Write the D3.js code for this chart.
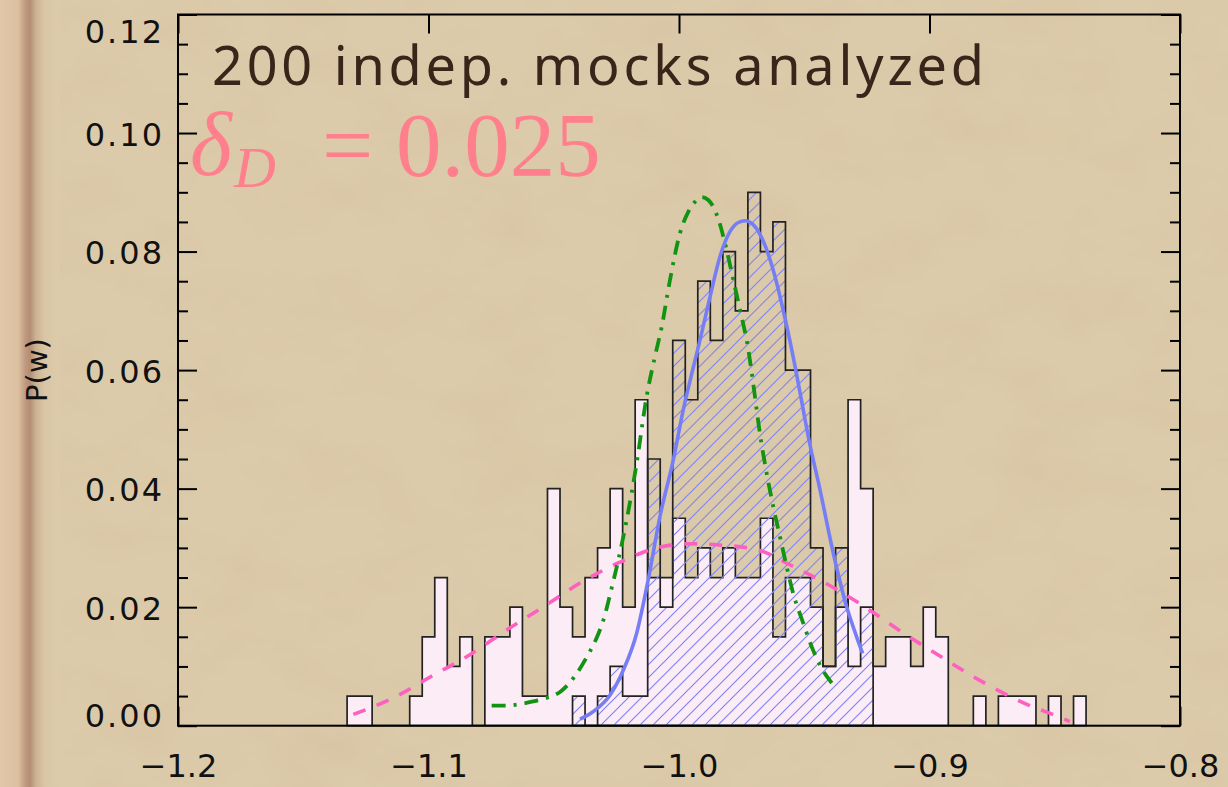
<!DOCTYPE html>
<html>
<head>
<meta charset="utf-8">
<script src="https://cdn.jsdelivr.net/npm/d3@7"></script>
<style>
  html, body { margin: 0; padding: 0; background: #dccbaa; }
  svg { display: block; }
</style>
</head>
<body>
<div id="chart"></div>
<script>
// ---- data ---------------------------------------------------------------
// histogram bins (width 0.005), centres
var binCenters = [-1.130, -1.125, -1.120, -1.115, -1.110, -1.105, -1.100, -1.095, -1.090, -1.085,
                  -1.080, -1.075, -1.070, -1.065, -1.060, -1.055, -1.050, -1.045, -1.040, -1.035,
                  -1.030, -1.025, -1.020, -1.015, -1.010, -1.005, -1.000, -0.995, -0.990, -0.985,
                  -0.980, -0.975, -0.970, -0.965, -0.960, -0.955, -0.950, -0.945, -0.940, -0.935,
                  -0.930, -0.925, -0.920, -0.915, -0.910, -0.905, -0.900, -0.895, -0.890, -0.885,
                  -0.880, -0.875, -0.870, -0.865, -0.860, -0.855, -0.850, -0.845, -0.840];
var binWidth = 0.005;

// all 200 mocks (pink histogram)
var pAll = [0.005, 0.005, 0, 0, 0, 0.005, 0.015, 0.025, 0.010, 0.015,
            0, 0.015, 0.015, 0.020, 0.005, 0.005, 0.040, 0.020, 0.015, 0.025,
            0.030, 0.040, 0.020, 0.055, 0.025, 0.025, 0.035, 0.025, 0.030, 0.025,
            0.030, 0.025, 0.025, 0.035, 0.015, 0.025, 0.025, 0.020, 0.010, 0.020,
            0.055, 0.040, 0.010, 0.015, 0.015, 0.010, 0.020, 0.015, 0, 0,
            0.005, 0, 0.005, 0.005, 0.005, 0, 0.005, 0, 0.005];

// hatched histogram
var pHatched = [0, 0, 0, 0, 0, 0, 0, 0, 0, 0,
                0, 0, 0, 0, 0, 0, 0, 0, 0.005, 0,
                0.005, 0.010, 0.005, 0.005, 0.045, 0.020, 0.065, 0.055, 0.075, 0.065,
                0.080, 0.070, 0.090, 0.080, 0.085, 0.060, 0.060, 0.030, 0.010, 0.030,
                0.010, 0.020, 0, 0, 0, 0, 0, 0, 0, 0,
                0, 0, 0, 0, 0, 0, 0, 0, 0];

// pink dashed fit
var pinkW = [-1.130, -1.114, -1.099, -1.083, -1.069, -1.054, -1.039, -1.024, -1.008, -0.996,
             -0.984, -0.968, -0.956, -0.940, -0.926, -0.920, -0.911, -0.896, -0.881, -0.8705,
             -0.860, -0.849, -0.844];
var pinkP = [0.0019, 0.0047, 0.0083, 0.0121, 0.0161, 0.0201, 0.0242, 0.0275, 0.0301, 0.0307,
             0.0305, 0.0296, 0.0272, 0.0237, 0.0201, 0.0184, 0.0158, 0.0118, 0.0079, 0.0055,
             0.0034, 0.0016, 0.0007];

// green dash-dot fit
var greenW = [-1.0748, -1.0695, -1.0582, -1.0528, -1.0475, -1.0422, -1.0368, -1.0329, -1.0302, -1.0269,
              -1.0242, -1.0209, -1.0169, -1.0129, -1.0096, -1.0069, -1.0036, -0.9996, -0.9963, -0.9936,
              -0.9909, -0.9883, -0.9849, -0.9810, -0.9783, -0.9756, -0.9723, -0.9703, -0.9677, -0.9650,
              -0.9624, -0.9597, -0.9570, -0.9544, -0.9504, -0.9470, -0.9437, -0.9390];
var greenP = [0.0034, 0.0034, 0.0041, 0.0047, 0.0057, 0.0080, 0.0116, 0.0148, 0.0178, 0.0232,
              0.0280, 0.0347, 0.0443, 0.0556, 0.0623, 0.0673, 0.0752, 0.0831, 0.0867, 0.0884,
              0.0892, 0.0887, 0.0862, 0.0803, 0.0752, 0.0701, 0.0634, 0.0575, 0.0493, 0.0426,
              0.0370, 0.0319, 0.0268, 0.0223, 0.0173, 0.0133, 0.0102, 0.0072];

// blue solid fit
var blueW = [-1.0395, -1.0342, -1.0275, -1.0222, -1.0169, -1.0123, -1.0076, -1.0023, -0.9983, -0.9942,
             -0.9916, -0.9876, -0.9836, -0.9796, -0.9763, -0.9737, -0.9703, -0.9663, -0.9624, -0.9584,
             -0.9544, -0.9504, -0.9484, -0.9437, -0.9384, -0.9331, -0.9291, -0.9267];
var blueP = [0.0011, 0.0024, 0.0052, 0.0094, 0.0156, 0.0246, 0.0353, 0.0448, 0.0533, 0.0606,
             0.0651, 0.0724, 0.0792, 0.0834, 0.0849, 0.0852, 0.0845, 0.0817, 0.0769, 0.0701,
             0.0622, 0.0533, 0.0488, 0.0398, 0.0291, 0.0201, 0.0150, 0.0122];

var xTicks = [-1.2, -1.1, -1.0, -0.9, -0.8];
var yTicks = [0, 0.02, 0.04, 0.06, 0.08, 0.10, 0.12];
var yMinorTicks = [0.005, 0.010, 0.015, 0.025, 0.030, 0.035, 0.045, 0.050, 0.055, 0.065, 0.070, 0.075,
                   0.085, 0.090, 0.095, 0.105, 0.110, 0.115];

var titleText = "200 indep. mocks analyzed";

// ---- layout ---------------------------------------------------------------
var w = 1228, h = 787;
var plotL = 178, plotR = 1180, plotT = 14.5, plotB = 725.7;

var x = d3.scaleLinear().domain([-1.2, -0.8]).range([plotL, plotR]);
var y = d3.scaleLinear().domain([0, 0.12]).range([plotB, plotT]);

var svg = d3.select("#chart")
    .append("svg")
    .attr("width", w)
    .attr("height", h);

var defs = svg.append("defs");

// parchment blotches
var paper = defs.append("filter").attr("id", "paper")
    .attr("x", 0).attr("y", 0).attr("width", "100%").attr("height", "100%");
paper.append("feTurbulence")
    .attr("type", "fractalNoise")
    .attr("baseFrequency", "0.011 0.018")
    .attr("numOctaves", 4)
    .attr("seed", 7);
paper.append("feColorMatrix")
    .attr("type", "matrix")
    .attr("values", "0 0 0 0 0.62  0 0 0 0 0.47  0 0 0 0 0.32  0.55 0 0 0 -0.22");

// left binding strip
var strip = defs.append("linearGradient").attr("id", "strip")
    .attr("x1", 0).attr("x2", 1).attr("y1", 0).attr("y2", 0);
[[0, "#e0c8a8"], [0.3, "#dcc1a1"], [0.42, "#bf9a80"], [0.5, "#b38d75"], [0.6, "#cdb292"], [0.75, "#dac6a6"], [1, "#dccbaa"]]
    .forEach(function (s) {
        strip.append("stop").attr("offset", s[0]).attr("stop-color", s[1]);
    });

// hatch pattern
var hatch = defs.append("pattern").attr("id", "hatch")
    .attr("patternUnits", "userSpaceOnUse")
    .attr("width", 13).attr("height", 13);
hatch.append("path")
    .attr("d", "M-3,3 l6,-6 M0,13 l13,-13 M10,16 l6,-6")
    .attr("stroke", "#7f86f6")
    .attr("stroke-width", 1.2);

svg.append("rect").attr("width", w).attr("height", h).attr("fill", "#dccbaa");
svg.append("rect").attr("width", w).attr("height", h).attr("filter", "url(#paper)");
svg.append("rect").attr("width", 60).attr("height", h).attr("fill", "url(#strip)");

// ---- axes (ticks pointing inward) ----------------------------------------
function styleAxis(g) {
    g.select(".domain").remove();
    g.selectAll(".tick line").attr("stroke", "#000").attr("stroke-width", 2);
    g.selectAll("text")
        .attr("fill", "#111")
        .style("font-family", "'DejaVu Sans', sans-serif")
        .style("font-size", "32px");
}

svg.append("g").attr("transform", `translate(${plotL},0)`)
    .call(d3.axisLeft(y).tickValues(yMinorTicks).tickSize(-10).tickFormat(""))
    .call(styleAxis);
svg.append("g").attr("transform", `translate(${plotL},0)`)
    .call(d3.axisLeft(y).tickValues(yTicks).tickSize(-19).tickPadding(14).tickFormat(d3.format(".2f")))
    .call(styleAxis)
    .selectAll("text")
    .style("letter-spacing", "2px")
    .attr("dy", "0.38em")
    .attr("y", (d) => Math.max(30, Math.min(714, y(d))) - y(d));

svg.append("g").attr("transform", `translate(${plotR},0)`)
    .call(d3.axisRight(y).tickValues(yMinorTicks).tickSize(-10).tickFormat(""))
    .call(styleAxis);
svg.append("g").attr("transform", `translate(${plotR},0)`)
    .call(d3.axisRight(y).tickValues(yTicks).tickSize(-19).tickFormat(""))
    .call(styleAxis);

svg.append("g").attr("transform", `translate(0,${plotB})`)
    .call(d3.axisBottom(x).tickValues(xTicks).tickSize(-19).tickPadding(29).tickFormat(d3.format(".1f")))
    .call(styleAxis);
svg.append("g").attr("transform", `translate(0,${plotT})`)
    .call(d3.axisTop(x).tickValues(xTicks).tickSize(-19).tickFormat(""))
    .call(styleAxis);

// ---- histograms -------------------------------------------------------------
function stepPoints(vals) {
    var idx = vals.map((v, i) => v > 0 ? i : -1).filter((i) => i >= 0);
    var i0 = idx[0], i1 = idx[idx.length - 1];
    var pts = [[binCenters[i0] - binWidth / 2, 0]];
    for (var i = i0; i <= i1; i++) pts.push([binCenters[i] - binWidth / 2, vals[i]]);
    pts.push([binCenters[i1] + binWidth / 2, vals[i1]]);
    pts.push([binCenters[i1] + binWidth / 2, 0]);
    return pts;
}

var stepLine = d3.line()
    .x((d) => x(d[0]))
    .y((d) => y(d[1]))
    .curve(d3.curveStepAfter);

svg.append("path")
    .attr("d", stepLine(stepPoints(pAll)) + "Z")
    .attr("fill", "#fcecf6")
    .attr("stroke", "#222")
    .attr("stroke-width", 1.7)
    .attr("stroke-linejoin", "miter");

svg.append("path")
    .attr("d", stepLine(stepPoints(pHatched)) + "Z")
    .attr("fill", "url(#hatch)")
    .attr("stroke", "#222")
    .attr("stroke-width", 1.7)
    .attr("stroke-linejoin", "miter");

// ---- fitted curves ----------------------------------------------------------
var curveLine = d3.line()
    .x((d) => x(d[0]))
    .y((d) => y(d[1]))
    .curve(d3.curveMonotoneX);

svg.append("path")
    .attr("d", curveLine(d3.zip(pinkW, pinkP)))
    .attr("fill", "none")
    .attr("stroke", "#ff5fc0")
    .attr("stroke-width", 3.6)
    .attr("stroke-dasharray", "13,12");

svg.append("path")
    .attr("d", curveLine(d3.zip(greenW, greenP)))
    .attr("fill", "none")
    .attr("stroke", "#129412")
    .attr("stroke-width", 3.8)
    .attr("stroke-dasharray", "14,8,3,8");

svg.append("path")
    .attr("d", curveLine(d3.zip(blueW, blueP)))
    .attr("fill", "none")
    .attr("stroke", "#767ef6")
    .attr("stroke-width", 3.6);

// frame
svg.append("rect")
    .attr("x", plotL).attr("y", plotT)
    .attr("width", plotR - plotL).attr("height", plotB - plotT)
    .attr("fill", "none")
    .attr("stroke", "#000")
    .attr("stroke-width", 2);

// ---- texts ------------------------------------------------------------------
svg.append("text")
    .attr("transform", "translate(47,370) rotate(-90)")
    .attr("text-anchor", "middle")
    .style("font-family", "'DejaVu Sans', sans-serif")
    .style("font-size", "29px")
    .attr("fill", "#111")
    .text("P(w)");

svg.append("text")
    .attr("x", 212).attr("y", 85)
    .attr("textLength", 772)
    .attr("lengthAdjust", "spacing")
    .style("font-family", "'Noto Sans', sans-serif")
    .style("font-size", "54px")
    .attr("fill", "#3a251a")
    .text(titleText);

var delta = svg.append("g")
    .attr("fill", "#ff7f8c")
    .style("font-family", "'Liberation Serif', 'DejaVu Serif', serif");
delta.append("text")
    .attr("x", 190).attr("y", 175)
    .style("font-style", "italic")
    .style("font-size", "90px")
    .text("\u03b4");
delta.append("text")
    .attr("x", 234).attr("y", 187)
    .style("font-style", "italic")
    .style("font-size", "58px")
    .text("D");
delta.append("text")
    .attr("x", 322).attr("y", 176)
    .style("font-size", "91px")
    .text("= 0.025");
</script>
</body>
</html>
